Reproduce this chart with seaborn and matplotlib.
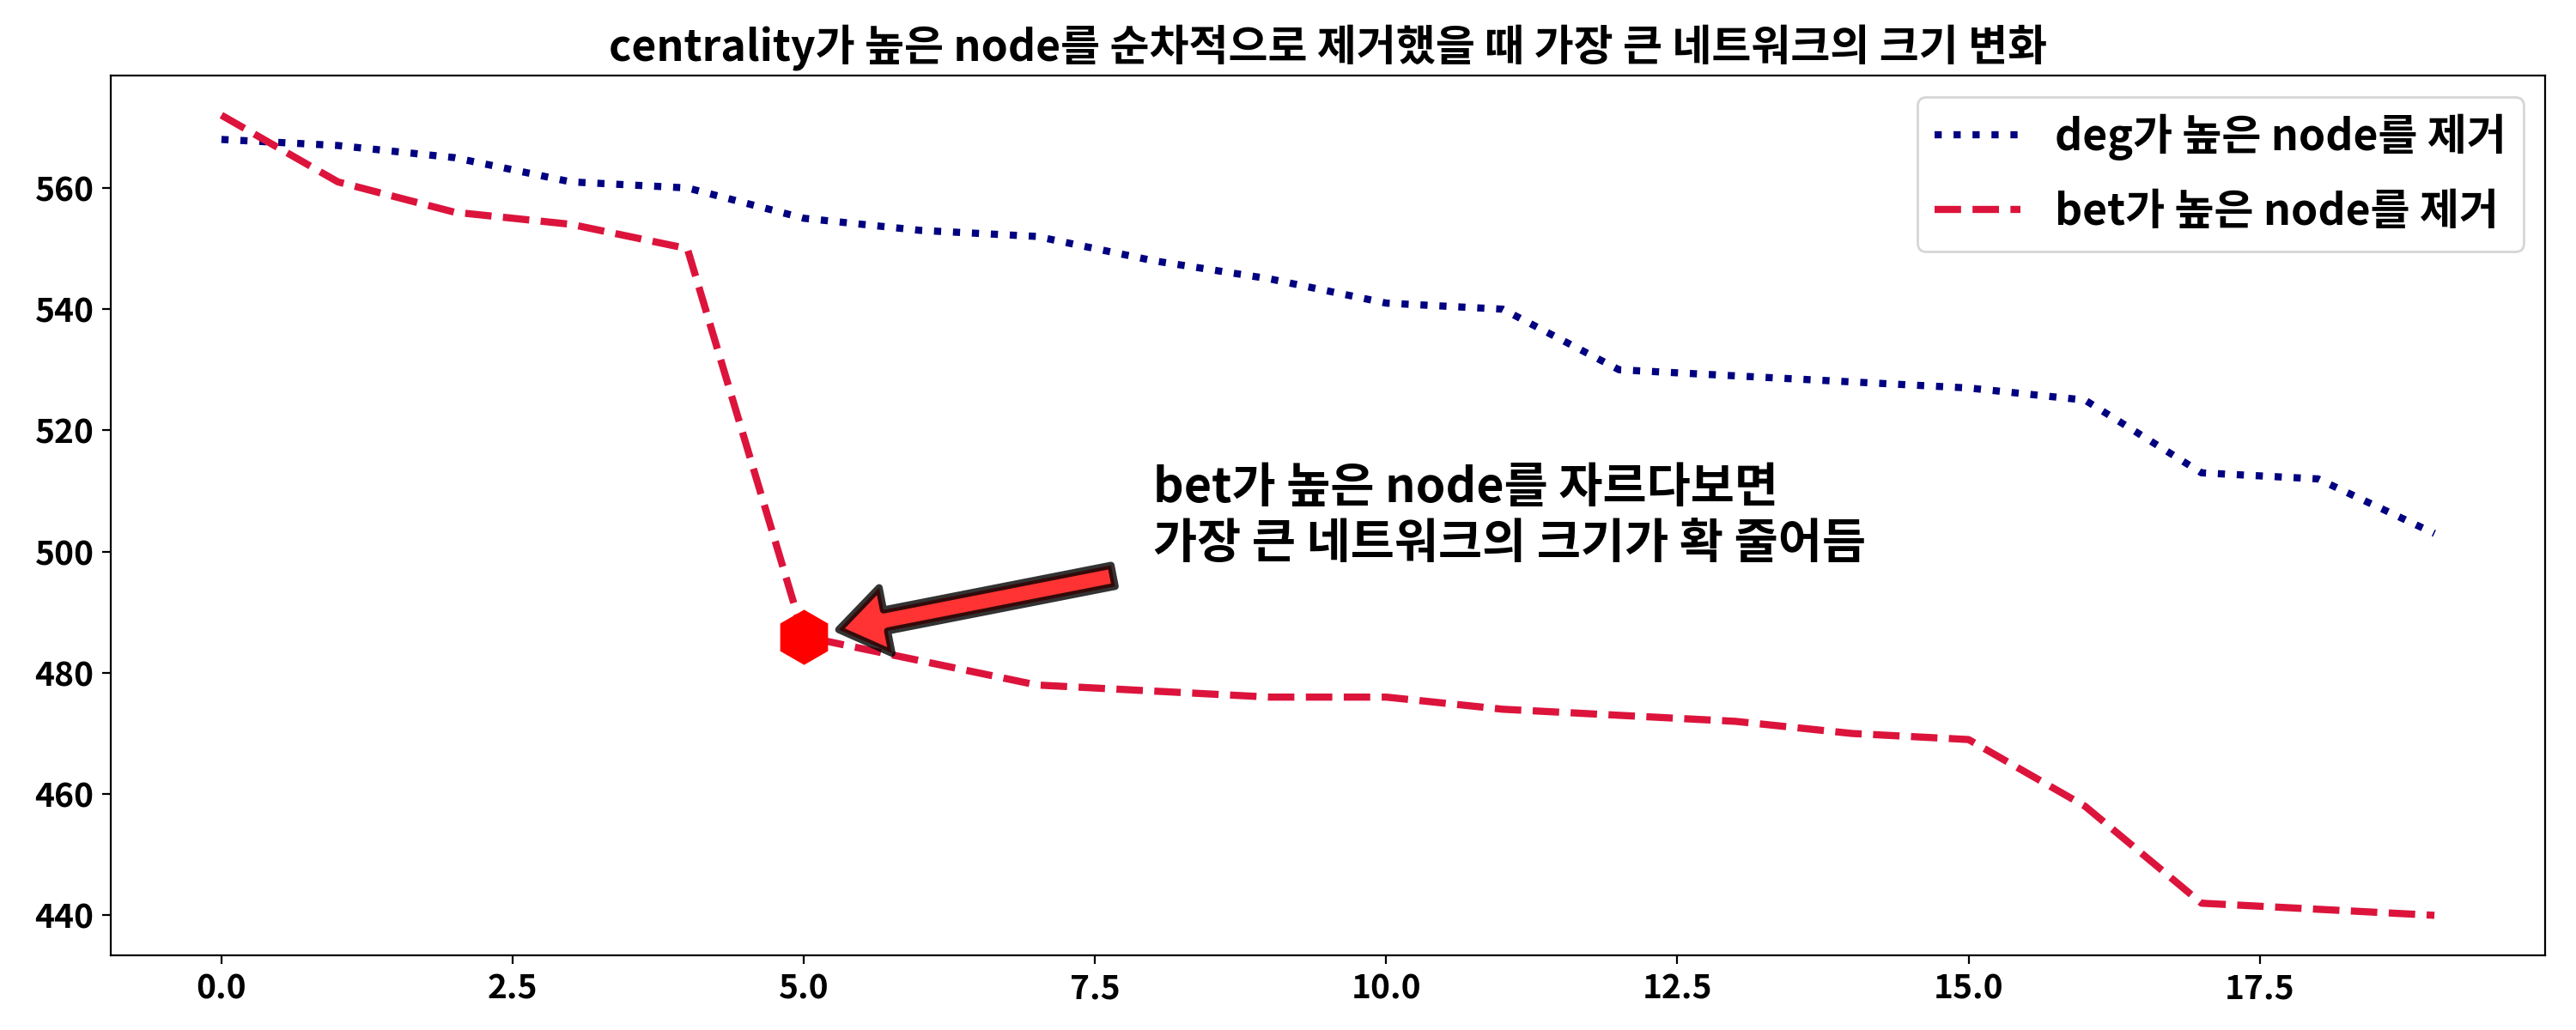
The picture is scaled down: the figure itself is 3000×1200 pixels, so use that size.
import matplotlib
matplotlib.use("Agg")
import matplotlib.pyplot as plt
import seaborn as sns

# 제거 단계 (0 ~ 19)
steps = list(range(20))
# 가장 큰 네트워크의 크기
deg_sizes = [568, 567, 565, 561, 560, 555, 553, 552, 548, 545,
             541, 540, 530, 529, 528, 527, 525, 513, 512, 503]
bet_sizes = [572, 561, 556, 554, 550, 486, 482, 478, 477, 476,
             476, 474, 473, 472, 470, 469, 458, 442, 441, 440]

labels = ['deg가 높은 node를 제거', 'bet가 높은 node를 제거']
title = 'centrality가 높은 node를 순차적으로 제거했을 때 가장 큰 네트워크의 크기 변화'
note = 'bet가 높은 node를 자르다보면\n가장 큰 네트워크의 크기가 확 줄어듬'
drop_idx = 5
note_pos = (8, 499)

# ============================================
# 스타일
# ============================================
sns.set_style('ticks', {'axes.edgecolor': 'black', 'xtick.color': 'black',
                        'ytick.color': 'black', 'text.color': 'black',
                        'axes.labelcolor': 'black'})
plt.rcParams['font.family'] = ['Noto Sans CJK KR', 'DejaVu Sans']
plt.rcParams['font.weight'] = 'bold'

fig, ax = plt.subplots(figsize=(15, 6), dpi=200)
fig.subplots_adjust(left=0.043, right=0.988, bottom=0.0725, top=0.927)

sns.lineplot(x=steps, y=deg_sizes, ax=ax, color='navy', linestyle=':',
             linewidth=3, label=labels[0])
sns.lineplot(x=steps, y=bet_sizes, ax=ax, color='crimson', linestyle='--',
             linewidth=3, label=labels[1])

# 급감 지점 표시
ax.plot(steps[drop_idx], bet_sizes[drop_idx], marker='h', color='red',
        markersize=22, linestyle='none', zorder=5)
ax.annotate(note, xy=(steps[drop_idx], bet_sizes[drop_idx]), xytext=note_pos,
            fontsize=20, zorder=6,
            arrowprops=dict(facecolor='red', edgecolor='black', alpha=0.8,
                            linewidth=3, shrink=0.1, width=9,
                            headwidth=28, headlength=20))

ax.set_title(title, fontsize=18, fontweight='bold')
ax.legend(loc='upper right', fontsize=18, labelspacing=0.7)
ax.tick_params(labelsize=14)

fig.savefig('out.png', dpi=200)
print("saved out.png")
